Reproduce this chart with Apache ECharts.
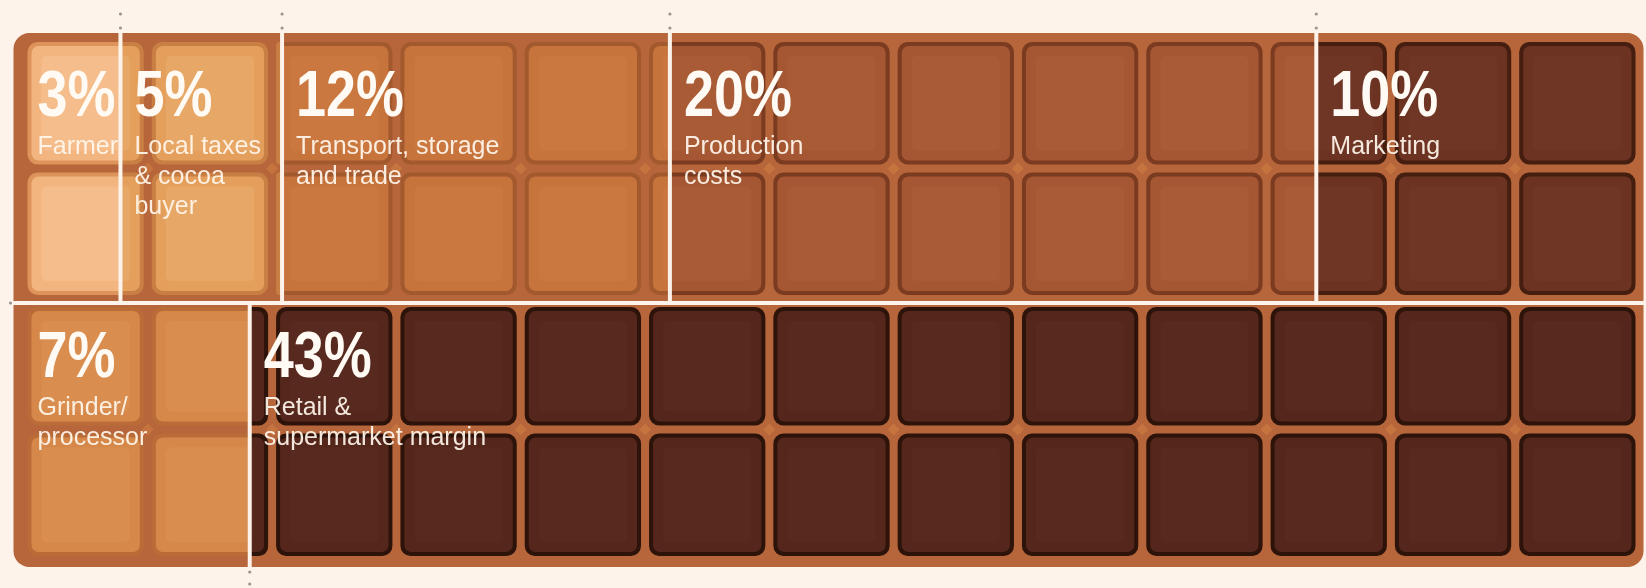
<!DOCTYPE html>
<html><head><meta charset="utf-8">
<script src="https://cdn.jsdelivr.net/npm/echarts@6/dist/echarts.min.js"></script>
<style>html,body{margin:0;padding:0;background:#fdf3ea;overflow:hidden;} #c{width:1646px;height:588px;}</style>
</head><body><div id="c"></div>
<script>
// ---- data ----
const topCategories = ['Farmer', 'Local taxes\n& cocoa\nbuyer', 'Transport, storage\nand trade', 'Production\ncosts', 'Marketing'];
const topValues = [3, 5, 12, 20, 10];
const bottomCategories = ['Grinder/\nprocessor', 'Retail &\nsupermarket margin'];
const bottomValues = [7, 43];
const halfTotal = 50;      // each half of the bar holds 50%
const columns = 13;
const rowsPerHalf = 2;

// ---- styles ----
const topFaces    = ['#f2b580', '#e49f5d', '#c7733c', '#a55733', '#6c3323'];
const topInner    = ['#f5bd8b', '#e7a766', '#ca7840', '#a95b36', '#6f3626'];
const topOutline  = ['#dd9359', '#c97e44', '#a3592e', '#7a3b21', '#451e10'];
const botFaces    = ['#d5884a', '#55271c'];
const botInner    = ['#d98d4f', '#58291e'];
const botOutline  = ['#b96c38', '#2d130a'];
const baseColor = '#b6663a';
const lineColor = '#fdf3ea';

const halves = [
  {cats: topCategories, vals: topValues, faces: topFaces, inner: topInner, outline: topOutline},
  {cats: bottomCategories, vals: bottomValues, faces: botFaces, inner: botInner, outline: botOutline}
];

const segData = [], labelData = [], dividerData = [];
halves.forEach((h, hi) => {
  let acc = 0;
  h.vals.forEach((v, i) => {
    segData.push([acc, acc + v, hi, i]);
    labelData.push([acc, hi, i]);
    if (acc > 0) dividerData.push([acc, hi]);
    acc += v;
  });
});

const chart = echarts.init(document.getElementById('c'));
const colW = halfTotal / columns;

function clipRect(lx0, lx1, ly0, ly1, sx0, sx1, r, fill) {
  const a = Math.max(lx0, sx0), b = Math.min(lx1, sx1);
  if (b - a <= 0.3) return null;
  const rl = lx0 >= sx0 ? r : 0, rr = lx1 <= sx1 ? r : 0;
  const rm = Math.min(r, (b - a) / 2);
  return {type: 'rect', shape: {x: a, y: ly0, width: b - a, height: ly1 - ly0,
    r: [Math.min(rl, rm), Math.min(rr, rm), Math.min(rr, rm), Math.min(rl, rm)]},
    style: {fill: fill}, silent: true};
}

function renderBase(params, api) {
  const p0 = api.coord([0, 0]), p1 = api.coord([halfTotal, rowsPerHalf * 2]);
  const children = [{type: 'rect', shape: {x: p0[0] - 10, y: p0[1] - 5, width: p1[0] - p0[0] + 14, height: p1[1] - p0[1] + 12, r: 16},
    style: {fill: baseColor}}];
  for (let c = 1; c < columns; c++) {
    for (let r = 1; r < rowsPerHalf * 2; r++) {
      if (r === rowsPerHalf) continue;
      const p = api.coord([c * colW, r]);
      children.push({type: 'polygon', shape: {points: [[p[0], p[1] - 6], [p[0] + 6, p[1]], [p[0], p[1] + 6], [p[0] - 6, p[1]]]},
        style: {fill: '#c6743f'}});
    }
  }
  return {type: 'group', children: children};
}

function renderSeg(params, api) {
  const sx0 = api.coord([api.value(0), 0])[0];
  const sx1 = api.coord([api.value(1), 0])[0];
  const hi = api.value(2), idx = api.value(3);
  const h = halves[hi];
  const children = [];
  for (let r = hi * rowsPerHalf; r < (hi + 1) * rowsPerHalf; r++) {
    const topInset = (r === rowsPerHalf) ? 8 : 4;
    const yTop = api.coord([0, r])[1] + topInset;
    const yBot = api.coord([0, r + 1])[1] - 4;
    for (let c = 0; c < columns; c++) {
      const cx0 = api.coord([c * colW, 0])[0] + 4;
      const cx1 = api.coord([(c + 1) * colW, 0])[0] - 4;
      if (cx1 <= sx0 || cx0 >= sx1) continue;
      const layers = [
        [0, 10, h.outline[idx]],
        [4, 7, h.faces[idx]],
        [14, 5, h.inner[idx]]
      ];
      layers.forEach(L => {
        const d = L[0];
        const el = clipRect(cx0 + d, cx1 - d, yTop + d, yBot - d, sx0, sx1, L[1], L[2]);
        if (el) children.push(el);
      });
    }
  }
  return {type: 'group', children: children};
}

function renderDivider(params, api) {
  const v = api.value(0), hi = api.value(1);
  const x = api.coord([v, 0])[0];
  const yTop = api.coord([0, 0])[1], yMid = api.coord([0, rowsPerHalf])[1], yBot = api.coord([0, rowsPerHalf * 2])[1];
  let y0, y1, dots;
  if (hi === 0) { y0 = yTop - 7; y1 = yMid + 4; dots = [yTop - 24, yTop - 10]; }
  else { y0 = yMid + 4; y1 = yBot + 8; dots = [yBot + 12, yBot + 24]; }
  const children = [{type: 'line', shape: {x1: x, y1: y0, x2: x, y2: y1}, style: {stroke: lineColor, lineWidth: 4}}];
  dots.forEach(d => children.push({type: 'circle', shape: {cx: x, cy: d, r: 1.6}, style: {fill: '#9a9590'}}));
  return {type: 'group', children: children};
}

function renderSplit(params, api) {
  const p = api.coord([0, rowsPerHalf]);
  const y = p[1] + 4;
  return {type: 'group', children: [
    {type: 'line', shape: {x1: p[0] - 13, y1: y, x2: 1646, y2: y}, style: {stroke: lineColor, lineWidth: 4}},
    {type: 'circle', shape: {cx: p[0] - 13, cy: y, r: 1.6}, style: {fill: '#9a9590'}}
  ]};
}

function renderLabel(params, api) {
  const v = api.value(0), hi = api.value(1), idx = api.value(2);
  const h = halves[hi];
  const x = api.coord([v, 0])[0] + 14;
  const yh = api.coord([0, hi * rowsPerHalf])[1];
  return {type: 'group', children: [
    {type: 'text', x: x, y: yh + 60, scaleX: 0.83, style: {text: h.vals[idx] + '%', fill: '#fffaf3',
      font: 'bold 65px "Liberation Sans", Arial, sans-serif', verticalAlign: 'middle', align: 'left'}},
    {type: 'text', x: x, y: yh + 94, style: {text: h.cats[idx], fill: 'rgba(255,246,236,0.93)',
      font: '25px "Liberation Sans", Arial, sans-serif', lineHeight: 30, verticalAlign: 'top', align: 'left'}}
  ]};
}

chart.setOption({
  backgroundColor: '#fdf3ea',
  animation: false,
  grid: {left: 23.5, right: 6.5, top: 38, bottom: 28},
  xAxis: {type: 'value', min: 0, max: halfTotal, show: false},
  yAxis: {type: 'value', min: 0, max: rowsPerHalf * 2, inverse: true, show: false},
  series: [
    {type: 'custom', name: 'base', renderItem: renderBase, data: [[0]], z: 1, clip: false},
    {type: 'custom', name: 'segments', renderItem: renderSeg, data: segData, z: 2, clip: false},
    {type: 'custom', name: 'split', renderItem: renderSplit, data: [[0]], z: 3, clip: false},
    {type: 'custom', name: 'dividers', renderItem: renderDivider, data: dividerData, z: 4, clip: false},
    {type: 'custom', name: 'labels', renderItem: renderLabel, data: labelData, z: 5, clip: false}
  ]
});
</script></body></html>
